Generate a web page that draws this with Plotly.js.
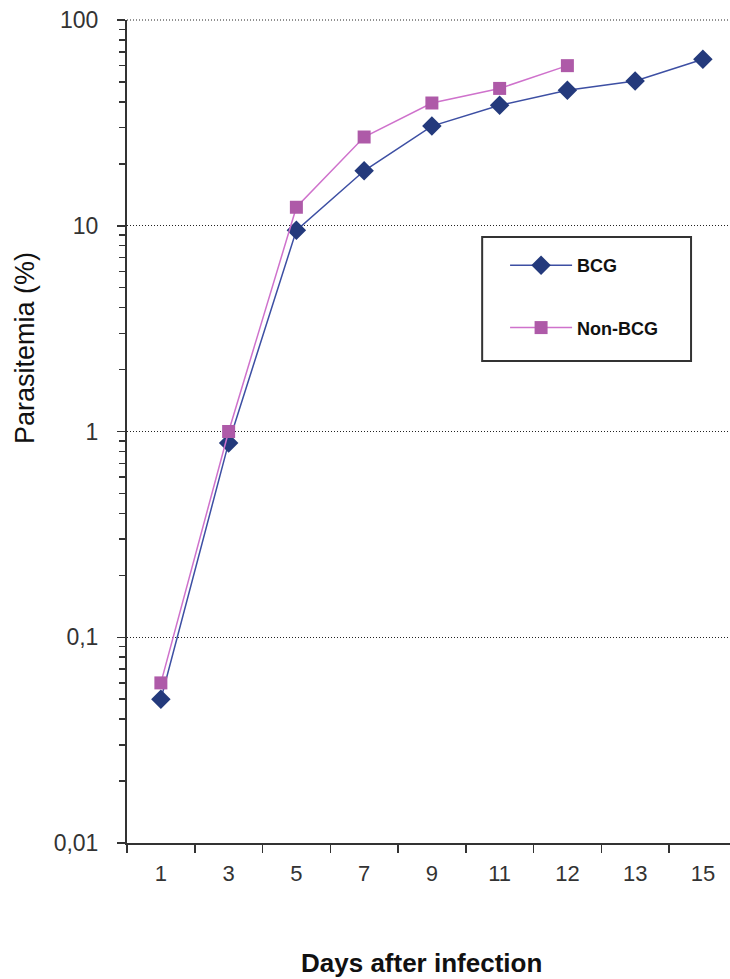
<!DOCTYPE html>
<html>
<head>
<meta charset="utf-8">
<script src="https://cdn.plot.ly/plotly-3.0.1.min.js"></script>
<style>html,body{margin:0;padding:0;background:#fff;}</style>
</head>
<body>
<div id="chart" style="width:730px;height:979px;"></div>
<script>
var days = ['1', '3', '5', '7', '9', '11', '12', '13', '15'];
var bcg = [0.05, 0.88, 9.5, 18.5, 30.5, 38.5, 45.5, 50.5, 64.5];
var nonBcgDays = ['1', '3', '5', '7', '9', '11', '12'];
var nonBcg = [0.06, 1.0, 12.3, 27.0, 39.5, 46.5, 60.0];
var yTickVals = [0.01, 0.1, 1, 10, 100];
var yTickText = ['0,01', '0,1', '1', '10', '100'];

var font = 'Liberation Sans, Arial, sans-serif';

var traces = [
  {
    x: days, y: bcg, name: 'BCG', type: 'scatter', mode: 'lines+markers',
    legendgroup: 'a',
    line: {color: '#3d4fa3', width: 1.5},
    marker: {symbol: 'diamond', size: 15, color: '#243a7c'}
  },
  {
    x: nonBcgDays, y: nonBcg, name: 'Non-BCG', type: 'scatter', mode: 'lines+markers',
    legendgroup: 'b',
    line: {color: '#cf72cc', width: 1.5},
    marker: {symbol: 'square', size: 13, color: '#ae5aa8'}
  }
];

var layout = {
  width: 730, height: 979,
  margin: {l: 126.5, r: 0, t: 20, b: 136},
  paper_bgcolor: '#fff', plot_bgcolor: '#fff',
  font: {family: font, color: '#222'},
  showlegend: true,
  legend: {
    x: 0.627, y: 0.7242, xanchor: 'left', yanchor: 'top',
    bgcolor: 'rgba(0,0,0,0)', borderwidth: 0,
    font: {family: font, size: 18, color: '#111', weight: 'bold'},
    traceorder: 'grouped', tracegroupgap: 36,
    itemwidth: 62
  },
  shapes: [
    {type: 'rect', xref: 'paper', yref: 'paper', x0: 0.589, x1: 0.9354, y0: 0.5857, y1: 0.7363,
     line: {color: '#333', width: 2}, fillcolor: '#fff', layer: 'below'},
    {type: 'line', xref: 'paper', yref: 'paper', x0: 0, x1: 1, y0: 1, y1: 1,
     line: {color: '#222', width: 1, dash: '1px,2px'}, layer: 'below'}
  ],
  xaxis: {
    type: 'category', range: [-0.5, 8.4],
    showline: true, linecolor: '#333', linewidth: 2,
    ticks: 'outside', tickson: 'boundaries', ticklen: 8, tickcolor: '#333', tickwidth: 1.5,
    ticklabelstandoff: 10,
    tickfont: {family: font, size: 22, color: '#333'},
    showgrid: false, zeroline: false, fixedrange: true
  },
  yaxis: {
    type: 'log', range: [-2, 2],
    tickmode: 'array', tickvals: yTickVals, ticktext: yTickText,
    showline: true, linecolor: '#333', linewidth: 2,
    ticks: 'outside', ticklen: 8, tickcolor: '#333', tickwidth: 1.5,
    ticklabelstandoff: 14,
    tickfont: {family: font, size: 23, color: '#333'},
    showgrid: true, gridcolor: '#222', gridwidth: 1, griddash: '1px,2px',
    minor: {ticks: 'outside', ticklen: 6, tickcolor: '#333', tickwidth: 1.5, dtick: 'D1', showgrid: false},
    zeroline: false, fixedrange: true
  },
  annotations: [
    {
      xref: 'paper', yref: 'paper', x: -0.168, y: 0.601, xanchor: 'center', yanchor: 'middle',
      showarrow: false,
      text: 'Parasitemia (%)', textangle: -90,
      font: {family: font, size: 27, color: '#111'}
    },
    {
      xref: 'paper', yref: 'paper', x: 0.488, y: -0.1458, xanchor: 'center', yanchor: 'middle',
      showarrow: false,
      text: '<b>Days after infection</b>',
      font: {family: font, size: 26, color: '#111'}
    }
  ]
};

Plotly.newPlot('chart', traces, layout, {displayModeBar: false, staticPlot: true});
</script>
</body>
</html>
